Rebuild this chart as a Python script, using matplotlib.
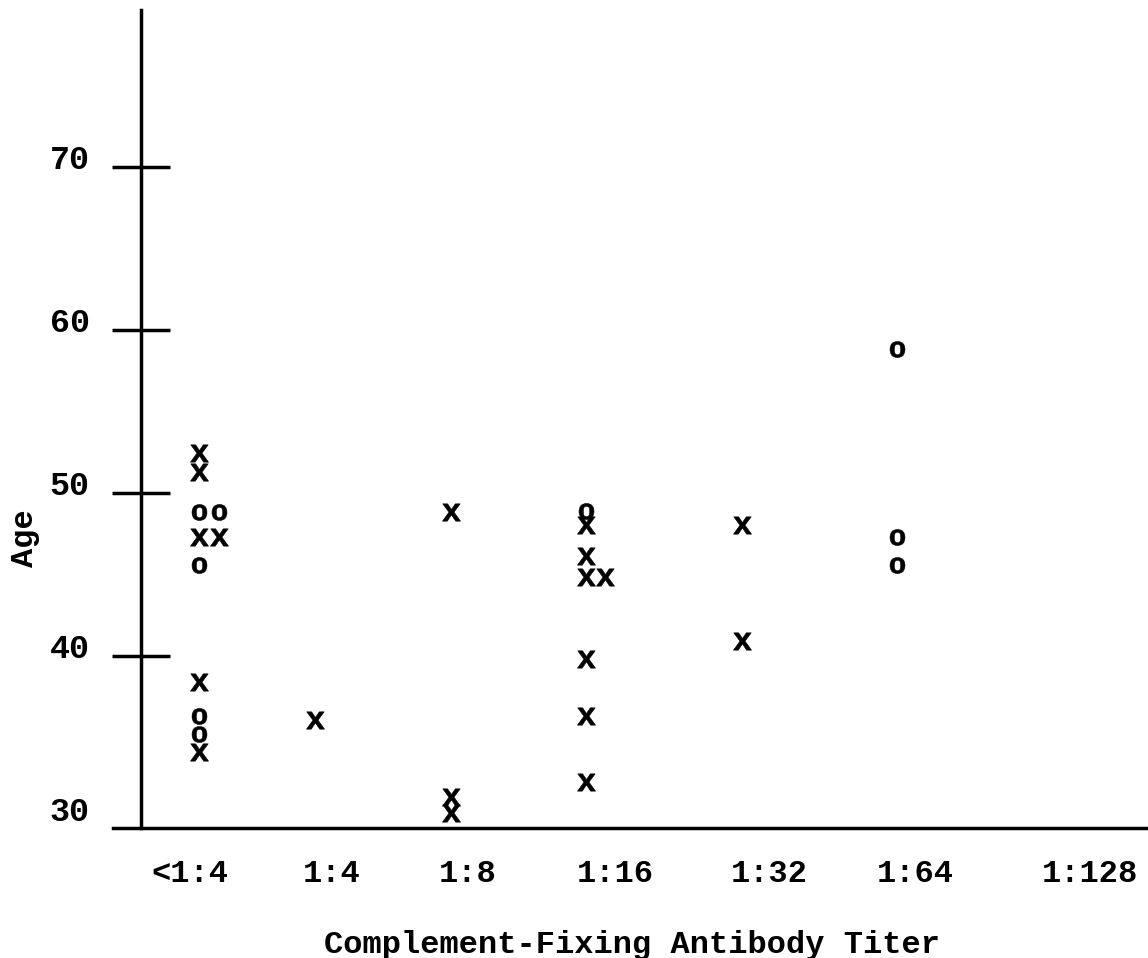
import numpy as np
import matplotlib
matplotlib.use("Agg")
import matplotlib.pyplot as plt
import matplotlib.transforms as mtransforms
from matplotlib.textpath import TextPath
from matplotlib.font_manager import FontProperties
from matplotlib.path import Path


# -------------------
# DATA
# x position is in "titer column" units, 0 = <1:4 ... 6 = 1:128
# -------------------
titer_labels = ["<1:4", "1:4", "1:8", "1:16", "1:32", "1:64", "1:128"]
titer_label_pos = [0.0, 0.947, 1.853, 2.833, 3.86, 4.833, 6.0]

x_marks_pos = [0.063, 0.063, 0.063, 0.193, 0.063, 0.063,
               0.833,
               1.74, 1.74, 1.74,
               2.64, 2.64, 2.64, 2.767, 2.64, 2.64, 2.64,
               3.678, 3.678]
x_marks_age = [52.45, 51.3, 47.3, 47.3, 38.4, 34.1,
               36.1,
               48.8, 31.37, 30.35,
               48.0, 46.1, 44.85, 44.85, 39.8, 36.3, 32.3,
               48.0, 40.9]

o_marks_pos = [0.063, 0.193, 0.063, 0.063, 0.063,
               2.64,
               4.713, 4.713, 4.713]
o_marks_age = [48.8, 48.8, 45.6, 36.3, 35.2,
               48.9,
               58.8, 47.3, 45.6]

age_ticks = [30, 40, 50, 60, 70]


# -------------------
# TYPEWRITER GLYPH MARKERS
# -------------------
FONT = "Liberation Mono"
fp = FontProperties(family=FONT, weight="bold")


def glyph_marker(ch):
    p = TextPath((0, 0), ch, size=10, prop=fp)
    ext = p.get_extents()
    v = p.vertices.copy()
    v[:, 0] -= (ext.x0 + ext.x1) / 2
    v[:, 1] -= (ext.y0 + ext.y1) / 2
    return Path(v, p.codes)


# -------------------
# PLOT
# -------------------
fig = plt.figure(figsize=(11.48, 9.58), dpi=100)
W, H = 1148, 958
ax = fig.add_axes([141 / W, (H - 828) / H, 1 - 141 / W, (828 - 10) / H])

ax.scatter(x_marks_pos, x_marks_age, marker=glyph_marker("x"), s=200,
           c="black", linewidths=0.4, edgecolors="black")
ax.scatter(o_marks_pos, o_marks_age, marker=glyph_marker("o"), s=160,
           c="black", linewidths=0.4, edgecolors="black")

ax.set_xlim((141 - 190) / 150, (1148 - 190) / 150)
ax.set_ylim(29.45, 79.6)

for s in ["top", "right"]:
    ax.spines[s].set_visible(False)
for s in ["left", "bottom"]:
    ax.spines[s].set_linewidth(2.5)
ax.spines["bottom"].set_bounds((113 - 190) / 150, (1148 - 190) / 150)

ax.set_yticks(age_ticks)
ax.set_yticklabels([str(t) for t in age_ticks], fontsize=24, family=FONT,
                   weight="bold")
ax.tick_params(axis="y", direction="inout", length=42, width=2.5, pad=16)
ax.yaxis.get_major_ticks()[0].tick1line.set_visible(False)
shift = mtransforms.ScaledTranslation(0, 10 / 100, fig.dpi_scale_trans)
for lbl in ax.get_yticklabels():
    lbl.set_transform(lbl.get_transform() + shift)

ax.set_xticks(titer_label_pos)
ax.set_xticklabels(titer_labels, fontsize=23, family=FONT, weight="bold")
ax.tick_params(axis="x", length=0, pad=22)

ax.set_xlabel("Complement-Fixing Antibody Titer", fontsize=23, family=FONT,
              weight="bold", va="center")
ax.xaxis.set_label_coords((632 - 141) / 1007, -(945 - 828) / 818)
ax.set_ylabel("Age", fontsize=23, family=FONT, weight="bold", va="center")
ax.yaxis.set_label_coords((25 - 141) / 1007, (828 - 538) / 818)

fig.savefig("out.png", dpi=100)
